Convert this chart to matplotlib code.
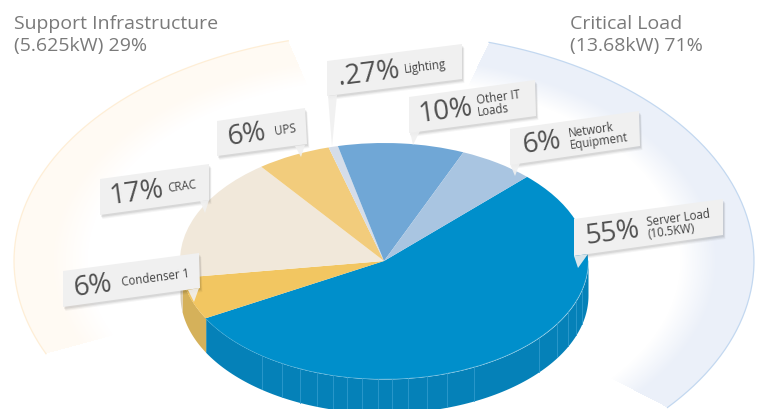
import numpy as np
import matplotlib
matplotlib.use("Agg")
import matplotlib.pyplot as plt
from matplotlib.colors import to_rgb
from matplotlib.patches import Polygon

plt.rcParams["font.family"] = ["Open Sans", "DejaVu Sans"]

# slices in drawing order, clockwise from the top right
slice_names = ["Server Load", "Condenser 1", "CRAC", "UPS", "Lighting", "Other IT", "Network"]
slice_shares = [54.6, 5.8, 17.0, 5.9, 0.75, 10.0, 6.0]
slice_colors = ["#008fcb", "#f2c661", "#f1e8da", "#f2cc7c", "#d5dde9", "#70a7d6", "#a9c5e1"]
wall_colors = ["#0581b8", "#d5b15a", "#d9cdb5", "#d5b56e", "#c0c8d4", "#5f94c0", "#97b1cc"]

label_pcts = ["55%", "6%", "17%", "6%", ".27%", "10%", "6%"]
label_names = ["Server Load\n(10.5KW)", "Condenser 1", "CRAC", "UPS", "Lighting", "Other IT\nLoads", "Network\nEquipment"]

group_titles = ["Support Infrastructure\n(5.625kW) 29%", "Critical Load\n(13.68kW) 71%"]

# seams on the side of the big slice, x in pie radii
seam_x = [-0.60, -0.50, -0.41, -0.33, -0.25, -0.18, -0.11, -0.03, 0.04, 0.12, 0.21,
          0.31, 0.44, 0.76, 0.85, 0.90, 0.94, 0.97]

W, H = 760, 410
CX, CY, RX, RY = 384, 262, 204, 118
DEPTH = 34 / RY

fig = plt.figure(figsize=(W / 100, H / 100), dpi=100, facecolor="white")

# back layer: the two faded rings
back = fig.add_axes([0, 0, 1, 1], zorder=0)
back.axis("off")

ring_a, ring_b = 370, 228
gx, gy = np.meshgrid(np.arange(W) + 0.5, np.arange(H) + 0.5)
u = (gx - CX) / ring_a
v = (CY - gy) / ring_b
rad = np.hypot(u, v)
ang = np.degrees(np.arctan2(v, u))
ang = np.where(ang < -90, ang + 360, ang)
fade = np.clip((rad - 0.80) / 0.10, 0, 1) * (rad <= 1)

rings = [(105, 204, "#fffaf3", "#feeed6"), (-40, 73.5, "#ebf0f9", "#c3d8f0")]
for a0, a1, col, edge in rings:
    mask = (ang >= a0) & (ang <= a1)
    rgba = np.zeros((H, W, 4))
    rgba[..., :3] = to_rgb(col)
    rgba[..., 3] = fade * mask
    back.imshow(rgba, extent=(0, W, H, 0), aspect="auto", interpolation="bilinear")
    t = np.radians(np.linspace(a0, a1, 200))
    back.plot(CX + ring_a * np.cos(t), CY - ring_b * np.sin(t), color=edge, lw=0.9)
back.set_xlim(0, W)
back.set_ylim(H, 0)

# pie layer, one unit is one radius so the circle turns into an ellipse
ax = fig.add_axes([0, 0, 1, 1], zorder=1)
start = 45.5
ax.pie(slice_shares, colors=slice_colors, startangle=start, counterclock=False,
       radius=1, wedgeprops={"linewidth": 0, "zorder": 3})
ax.set_aspect("auto")
ax.set_xlim(-CX / RX, (W - CX) / RX)
ax.set_ylim((CY - H) / RY, CY / RY)
ax.axis("off")

# side walls, only the front half of the disc shows
edges = start - np.cumsum([0] + slice_shares) * 360 / sum(slice_shares) + 360
for i in range(len(slice_shares)):
    lo, hi = max(edges[i + 1], 180), min(edges[i], 360)
    if hi <= lo:
        continue
    t = np.radians(np.linspace(lo, hi, 120))
    ax.fill_between(np.cos(t), np.sin(t), np.sin(t) - DEPTH, color=wall_colors[i], lw=0, zorder=1)

for x in seam_x:
    y = -np.sqrt(1 - x * x)
    ax.plot([x, x], [y, y - DEPTH], color="#2f9bcd", lw=0.6, zorder=2)
t = np.radians(np.linspace(edges[1], 360, 200))
ax.plot(np.cos(t), np.sin(t), color="#5ab6de", lw=0.6, zorder=2)

# top layer: titles and the tilted tags
top = fig.add_axes([0, 0, 1, 1], zorder=2)
top.set_xlim(0, W)
top.set_ylim(H, 0)
top.axis("off")

top.text(14, 35, group_titles[0], fontsize=14.0, color="#7a7a7a", va="center", linespacing=1.28)
top.text(570, 35, group_titles[1], fontsize=14.0, color="#7a7a7a", va="center", linespacing=1.28)

# corners TL TR BR BL, pointer base and tip, in the same order as the slices
tag_boxes = [
    [(574, 220), (723, 200), (723, 236), (574, 257)],
    [(63, 272), (199, 254), (200, 289), (63, 308)],
    [(100, 180), (209, 165), (209, 201), (100, 216)],
    [(217, 122), (305, 109), (307, 145), (217, 157)],
    [(327, 62), (462, 45), (462, 80), (327, 97)],
    [(409, 98), (535, 81), (536, 117), (409, 134)],
    [(510, 130), (639, 112), (640, 147), (510, 166)],
]
tag_pointers = [
    [(574, 257), (588, 255), (578, 269)],
    [(188, 291), (199, 289), (194, 303)],
    [(200, 202), (209, 201), (205, 214)],
    [(295, 147), (305, 146), (301, 158)],
    [(328, 97), (337, 96), (332, 148)],
    [(410, 133), (420, 132), (413, 146)],
    [(510, 165), (520, 164), (515, 177)],
]
pct_x = [585, 73, 109, 227, 338, 419, 522]
name_x = [647, 122, 168, 274, 404, 477, 569]

for box, ptr, pct, name, px, nx in zip(tag_boxes, tag_pointers, label_pcts, label_names, pct_x, name_x):
    box = np.array(box, dtype=float)
    for k, al in ((4, 0.04), (3, 0.05), (2, 0.07)):
        top.add_patch(Polygon(box + [k * 0.6, k], closed=True, fc="black", ec="none", alpha=al, zorder=1))
    top.add_patch(Polygon(ptr, closed=True, fc="#f0f0f0", ec="none", alpha=0.9, zorder=2))
    top.add_patch(Polygon(box, closed=True, fc="#f0f0f0", ec="none", zorder=2))
    slope = (box[1, 1] - box[0, 1]) / (box[1, 0] - box[0, 0])
    angle = -np.degrees(np.arctan(slope))
    yc = box[0, 1] + (px - box[0, 0]) * slope + (box[3, 1] - box[0, 1]) * 0.5
    top.text(px, yc, pct, fontsize=20, color="#505050", rotation=angle,
             rotation_mode="anchor", ha="left", va="center", zorder=3)
    ny = yc + (nx - px) * slope
    top.text(nx, ny, name, fontsize=8.3, color="#444444", rotation=angle, rotation_mode="anchor",
             ha="left", va="center", linespacing=0.95, zorder=3)

fig.savefig("out.png", dpi=100)
